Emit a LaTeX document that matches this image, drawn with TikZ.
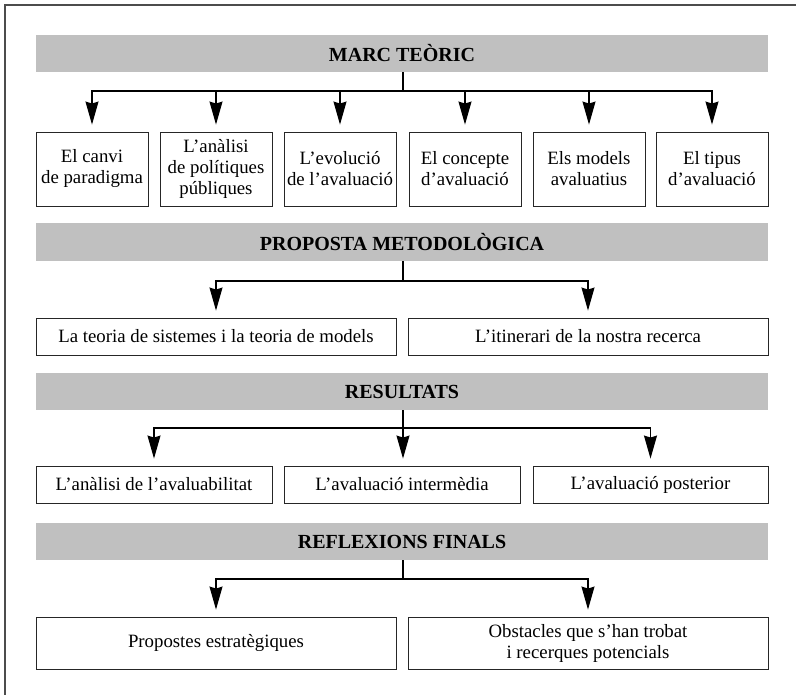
\documentclass[tikz,border=0pt]{standalone}
\usepackage{fontspec}
\setmainfont{Liberation Serif}
\usetikzlibrary{arrows.meta}
\begin{document}
\begin{tikzpicture}[x=1pt,y=-1pt,
  banner/.style={fill=bandgray,draw=none,minimum width=732pt,minimum height=37pt,inner sep=0pt,
    font=\fontsize{20}{23}\selectfont\bfseries},
  topic/.style={draw=black!85,line width=0.9pt,fill=white,inner sep=0pt,align=center,
    font=\fontsize{18.8}{21}\selectfont},
  link/.style={line width=1.1pt,black},
  arr/.style={link,-{Stealth[length=23pt,width=13pt,inset=2pt]},shorten >=7pt}
]
\definecolor{bandgray}{RGB}{192,192,192}
\useasboundingbox (0,0) rectangle (796,695);
\draw[line width=2pt,black!70] (5,696) -- (5,5) -- (797,5);

% Section 1
\node[banner] (b1) at (402,53.5) {MARC TEÒRIC};
\node[topic,minimum width=112pt,minimum height=74pt] (t11) at (92,169) {El canvi\\de paradigma};
\node[topic,minimum width=112pt,minimum height=74pt] (t12) at (216,169) {L’anàlisi\\de polítiques\\públiques};
\node[topic,minimum width=112pt,minimum height=74pt] (t13) at (340,169) {L’evolució\\de l’avaluació};
\node[topic,minimum width=112pt,minimum height=74pt] (t14) at (465,169) {El concepte\\d’avaluació};
\node[topic,minimum width=112pt,minimum height=74pt] (t15) at (589,169) {Els models\\avaluatius};
\node[topic,minimum width=112pt,minimum height=74pt] (t16) at (712,169) {El tipus\\d’avaluació};
\coordinate (j1) at (403,91);
\draw[link] (b1.south -| j1) -- (j1);
\foreach \t in {t11,t12,t13,t14,t15,t16} \draw[arr] (j1) -| (\t.north);

% Section 2
\node[banner,minimum height=38pt] (b2) at (402,242) {PROPOSTA METODOLÒGICA};
\node[topic,minimum width=360pt,minimum height=37pt] (t21) at (216,336.5) {La teoria de sistemes i la teoria de models};
\node[topic,minimum width=360pt,minimum height=37pt] (t22) at (588,336.5) {L’itinerari de la nostra recerca};
\coordinate (j2) at (403,281);
\draw[link] (b2.south -| j2) -- (j2);
\foreach \t in {t21,t22} \draw[arr] (j2) -| (\t.north);

% Section 3
\node[banner] (b3) at (402,391.5) {RESULTATS};
\node[topic,minimum width=236pt,minimum height=37pt] (t31) at (154,484.5) {L’anàlisi de l’avaluabilitat};
\node[topic,minimum width=236pt,minimum height=37pt] (t32) at (402,484.5) {L’avaluació intermèdia};
\node[topic,minimum width=235pt,minimum height=37pt] (t33) at (650.5,484.5) {L’avaluació posterior};
\coordinate (j3) at (403,428);
\draw[link] (b3.south -| j3) -- (j3);
\foreach \t in {t31,t33} \draw[arr] (j3) -| (\t.north);
\draw[arr] (j3) -- (j3 |- t32.north);

% Section 4
\node[banner] (b4) at (402,541.5) {REFLEXIONS FINALS};
\node[topic,minimum width=360pt,minimum height=52pt] (t41) at (216,643) {Propostes estratègiques};
\node[topic,minimum width=360pt,minimum height=52pt] (t42) at (588,643) {Obstacles que s’han trobat\\i recerques potencials};
\coordinate (j4) at (403,579);
\draw[link] (b4.south -| j4) -- (j4);
\foreach \t in {t41,t42} \draw[arr] (j4) -| (\t.north);
\end{tikzpicture}
\end{document}
